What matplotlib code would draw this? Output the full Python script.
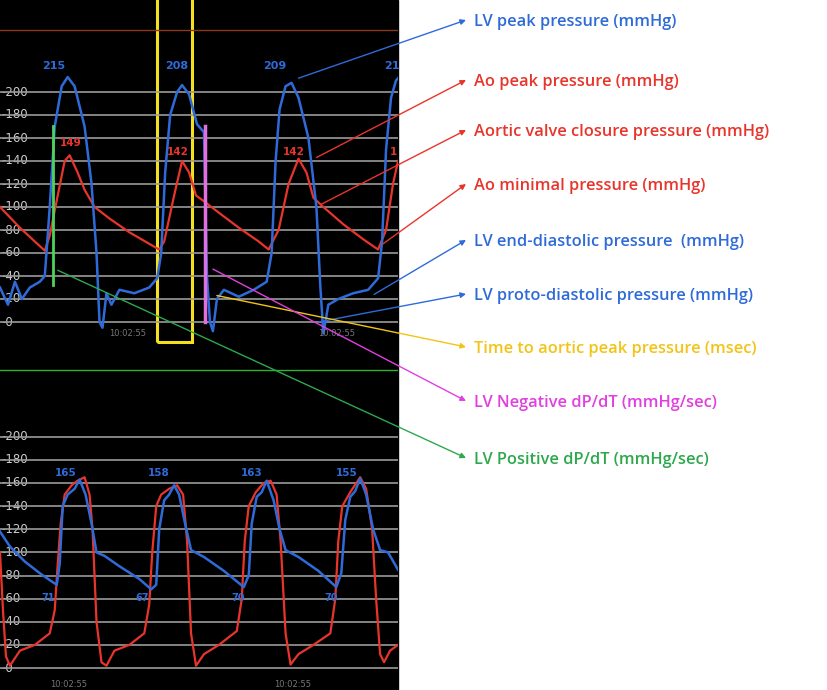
import matplotlib.pyplot as plt
from matplotlib.patches import Rectangle, ConnectionPatch

# %% DATA
# top panel: LV (blue) and aortic (red) pressure, time in px-like units, mmHg
lv_top_t = [0, 8, 15, 22, 30, 40, 45, 50, 55, 62, 68, 75, 85, 92, 97, 100, 103, 107, 112, 120, 135, 150,
            158, 162, 166, 171, 178, 183, 190, 198, 205, 208, 211, 214, 218, 225, 240, 255, 268,
            273, 277, 281, 287, 293, 300, 310, 318, 322, 325, 330, 340, 355, 370, 380, 384, 388, 393, 398, 400]
lv_top_p = [30, 15, 35, 20, 30, 35, 40, 100, 170, 205, 213, 205, 170, 120, 60, 0, -5, 25, 15, 28, 25, 30,
            38, 60, 130, 180, 200, 206, 198, 172, 165, 40, 0, -8, 20, 28, 22, 28, 35,
            60, 140, 185, 205, 208, 195, 160, 100, 30, -10, 15, 20, 25, 28, 38, 70, 150, 195, 210, 212]
ao_top_t = [0, 20, 40, 45, 50, 58, 65, 70, 78, 85, 95, 110, 130, 150, 160, 165, 175, 183, 190, 197, 205,
            220, 240, 260, 270, 280, 290, 300, 308, 315, 325, 345, 365, 380, 388, 395, 400]
ao_top_p = [100, 82, 66, 62, 75, 110, 140, 145, 130, 115, 100, 90, 78, 68, 63, 70, 110, 140, 130, 110, 105,
            95, 82, 70, 63, 80, 120, 142, 130, 108, 100, 85, 72, 63, 80, 120, 140]
lv_peak_labels = ['215', '208', '209', '21']
lv_peak_t = [42, 166, 264, 386]
ao_peak_labels = ['149', '142', '142', '1']
ao_peak_t = [60, 168, 284, 392]
ao_peak_p = [150, 142, 142, 142]
dpdt_pos_t, dpdt_pos_p = [53, 53], [32, 170]
dpdt_neg_t, dpdt_neg_p = [206, 206], [170, 0]

# bottom panel
lv_bot_t = [0, 10, 25, 40, 50, 57, 60, 63, 68, 75, 80, 86, 92, 97, 105, 120, 140, 152, 157, 160, 165, 170, 175,
            180, 186, 192, 205, 225, 245, 250, 253, 258, 263, 268, 275, 281, 287, 300, 320, 338, 343, 347,
            352, 357, 362, 368, 375, 382, 390, 400]
lv_bot_p = [118, 105, 92, 82, 76, 72, 90, 140, 150, 155, 163, 150, 125, 100, 97, 88, 77, 68, 72, 120, 145, 150,
            158, 150, 125, 102, 96, 84, 70, 80, 125, 148, 152, 162, 145, 120, 102, 96, 84, 70, 82, 128,
            148, 153, 164, 150, 120, 102, 100, 85]
ao_bot_t = [0, 3, 6, 10, 20, 35, 50, 55, 58, 61, 65, 72, 78, 85, 90, 93, 97, 102, 107, 115, 130, 145, 150,
            153, 157, 162, 170, 178, 184, 188, 192, 197, 205, 220, 238, 243, 246, 250, 257, 265, 272, 278,
            282, 287, 292, 300, 315, 332, 337, 340, 344, 352, 362, 368, 374, 378, 382, 386, 392, 400]
ao_bot_p = [100, 50, 10, 2, 15, 20, 30, 50, 90, 125, 150, 158, 162, 165, 150, 120, 40, 5, 2, 15, 20, 30, 55,
            100, 140, 150, 155, 158, 150, 110, 30, 2, 12, 20, 32, 60, 110, 140, 152, 160, 162, 150,
            110, 30, 3, 12, 20, 30, 60, 110, 140, 152, 165, 155, 120, 60, 12, 5, 15, 20]
bot_peak_labels = ['165', '158', '163', '155']
bot_peak_t = [63, 157, 250, 345]
bot_min_labels = ['71', '67', '70', '70']
bot_min_t = [46, 140, 237, 330]

ticks = [0, 20, 40, 60, 80, 100, 120, 140, 160, 180, 200]

labels = ['LV peak pressure (mmHg)', 'Ao peak pressure (mmHg)', 'Aortic valve closure pressure (mmHg)',
          'Ao minimal pressure (mmHg)', 'LV end-diastolic pressure  (mmHg)', 'LV proto-diastolic pressure (mmHg)',
          'Time to aortic peak pressure (msec)', 'LV Negative dP/dT (mmHg/sec)', 'LV Positive dP/dT (mmHg/sec)']
label_y = [22, 82, 132, 186, 242, 296, 349, 403, 460]
# arrow start points in top-panel coordinates (time, mmHg)
src_t = [300, 318, 322, 385, 376, 320, 218, 214, 58]
src_p = [212, 143, 102, 68, 24, 0, 23, 46, 45]

BLUE = '#2f6bd8'
RED = '#e8352b'
YELLOW = '#f2c418'
MAGENTA = '#e23fe0'
GREEN = '#2ea84c'
label_colors = [BLUE, RED, RED, RED, BLUE, BLUE, YELLOW, MAGENTA, GREEN]

# %% FIGURE
fig = plt.figure(figsize=(8.28, 6.9), dpi=100)
W, H = 828, 690

ov = fig.add_axes([0, 0, 1, 1])
ov.set_xlim(0, W)
ov.set_ylim(H, 0)
ov.axis('off')
ov.add_patch(Rectangle((0, 0), 398, H, color='black', zorder=0))


def panel(top, bottom, ylim):
    ax = fig.add_axes([0, 1 - bottom / H, 398 / W, (bottom - top) / H])
    ax.set_facecolor('black')
    ax.set_xlim(0, 400)
    ax.set_ylim(*ylim)
    ax.set_yticks(ticks)
    ax.set_yticklabels([])
    ax.tick_params(axis='y', length=0)
    for v in ticks:
        ax.text(1, v, '-' + str(v), color='#cccccc', fontsize=8.5, va='center', zorder=1)
    ax.set_xticks([])
    ax.grid(axis='y', color='#9a9a9a', lw=1.2)
    for s in ax.spines.values():
        s.set_visible(False)
    return ax


top = panel(0, 345, (-20, 280))
bot = panel(350, 690, (-19, 275))

top.plot([0, 400], [254, 254], color='#8a3a1a', lw=1)
top.plot(ao_top_t, ao_top_p, color=RED, lw=1.6)
top.plot(lv_top_t, lv_top_p, color=BLUE, lw=1.8)
top.plot(dpdt_pos_t, dpdt_pos_p, color='#4ed35a', lw=2)
top.plot(dpdt_neg_t, dpdt_neg_p, color='#e070e0', lw=2.5)
for t, s in zip(lv_peak_t, lv_peak_labels):
    top.text(t, 220, s, color=BLUE, fontsize=8, fontweight='bold')
for t, p, s in zip(ao_peak_t, ao_peak_p, ao_peak_labels):
    top.text(t, p + 3, s, color=RED, fontsize=7.5, fontweight='bold')
top.text(110, -12, '10:02:55', color='#777777', fontsize=6)
top.text(320, -12, '10:02:55', color='#777777', fontsize=6)
top.add_patch(Rectangle((158, -17), 35, 300, fill=False, edgecolor='#f5e020', lw=2.2))

bot.plot([0, 30, 38, 42, 46, 120, 130, 134, 138, 215, 225, 229, 233, 310, 320, 324, 328, 400],
         [258] * 18, color='#2fb02f', lw=1)
bot.plot(ao_bot_t, ao_bot_p, color=RED, lw=1.6)
bot.plot(lv_bot_t, lv_bot_p, color=BLUE, lw=1.8)
for t, s in zip(bot_peak_t, bot_peak_labels):
    bot.text(t - 8, 166, s, color=BLUE, fontsize=7.5, fontweight='bold')
for t, s in zip(bot_min_t, bot_min_labels):
    bot.text(t - 4, 58, s, color=BLUE, fontsize=7, fontweight='bold')
bot.text(50, -16, '10:02:55', color='#777777', fontsize=6)
bot.text(275, -16, '10:02:55', color='#777777', fontsize=6)

# annotations
for s, y, c, t, p in zip(labels, label_y, label_colors, src_t, src_p):
    ov.text(474, y, s, color=c, fontsize=11.8, fontweight='semibold', va='center', family='Open Sans')
    con = ConnectionPatch(xyA=(t, p), coordsA=top.transData, xyB=(466, y - 2), coordsB=ov.transData,
                          arrowstyle='-|>', color=c, lw=1, mutation_scale=8)
    fig.add_artist(con)

fig.savefig('out.png', dpi=100, facecolor='white')
